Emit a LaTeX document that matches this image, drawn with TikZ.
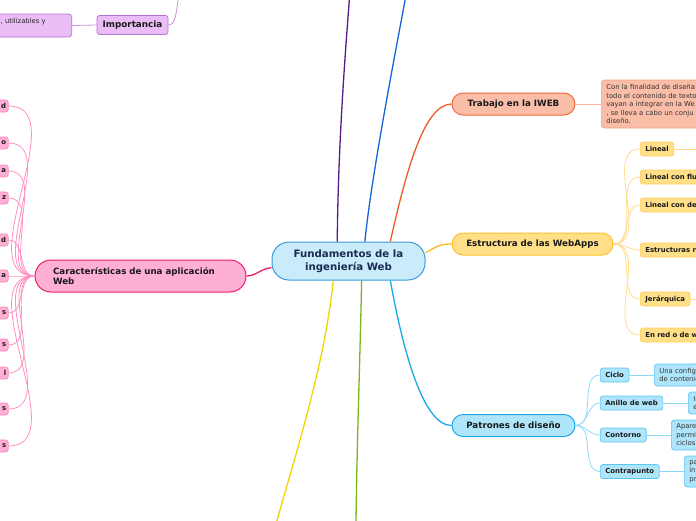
\documentclass[tikz,border=0pt]{standalone}
\usepackage{fontspec}
\setmainfont{DejaVu Sans}
\usepackage{tikz}
\usepackage{xcolor}

\definecolor{rootfill}{HTML}{C9EBFA}
\definecolor{rootline}{HTML}{3B9AD9}
\definecolor{roottext}{HTML}{1B2A50}
\definecolor{purplelink}{HTML}{5B1A85}
\definecolor{bluelink}{HTML}{1565D8}
\definecolor{orangelink}{HTML}{F05A28}
\definecolor{goldlink}{HTML}{FFB81C}
\definecolor{cyanlink}{HTML}{18A9E8}
\definecolor{greenlink}{HTML}{7AB51D}
\definecolor{yellowlink}{HTML}{F2D500}
\definecolor{pinklink}{HTML}{EE1C6C}
\definecolor{trabfill}{HTML}{FABDA8}
\definecolor{trabline}{HTML}{F26A3A}
\definecolor{trableaf}{HTML}{F4A283}
\definecolor{trabtwig}{HTML}{F9B79F}
\definecolor{estfill}{HTML}{FFDF88}
\definecolor{estline}{HTML}{FFC12B}
\definecolor{estsub}{HTML}{FFCF5C}
\definecolor{esttwig}{HTML}{FFDC8C}
\definecolor{patfill}{HTML}{AFE5FA}
\definecolor{patline}{HTML}{1DA9E6}
\definecolor{patsub}{HTML}{5CC6F2}
\definecolor{pattwig}{HTML}{8ED8F7}
\definecolor{carfill}{HTML}{FFAFD3}
\definecolor{carline}{HTML}{EE1C6C}
\definecolor{carsub}{HTML}{FF86BE}
\definecolor{cartwig}{HTML}{FF8FC2}
\definecolor{impfill}{HTML}{EBBDF7}
\definecolor{impline}{HTML}{B473D1}
\definecolor{imptwig}{HTML}{C595DC}

\begin{document}
\begin{tikzpicture}[>=stealth, x=1pt, y=-1pt, semithick,
    root/.style={draw=rootline, fill=rootfill, line width=1pt, rounded corners=17pt,
        minimum width=153pt, minimum height=38pt, inner sep=0pt, align=center,
        text=roottext, font=\bfseries\fontsize{10.2}{13}\selectfont},
    topic/.style={line width=1pt, rounded corners=11pt, minimum height=22pt,
        inner sep=0pt, text=black!90, font=\bfseries\fontsize{8.7}{10.2}\selectfont},
    sub/.style={line width=0.7pt, rounded corners=2.5pt, minimum height=14pt,
        inner xsep=5pt, inner ysep=0pt, text=black!90,
        font=\bfseries\fontsize{6.9}{8}\selectfont},
    leaf/.style={line width=0.7pt, rounded corners=3pt, inner xsep=5pt, inner ysep=1pt,
        align=left, anchor=west, text=black!80, font=\fontsize{6.8}{8.5}\selectfont},
    link/.style={line width=1.3pt},
    twig/.style={line width=0.8pt}]
        \useasboundingbox (0,0) rectangle (696,520);
        % centre
		\node[root] (0) at (348.5,261) {Fundamentos de la\\ingeniería Web};
        % Trabajo en la IWEB
		\node[topic, draw=trabline, fill=trabfill, minimum width=123pt] (1) at (513.5,104) {Trabajo en la IWEB};
		\node[leaf, draw=trableaf, fill=trabfill, text width=110pt, minimum height=48pt] (11) at (601,104) {Con la finalidad de diseña\\todo el contenido de texto\\vayan a integrar en la We\\, se lleva a cabo un conju\\diseño.};
        % Estructura de las WebApps
		\node[topic, draw=estline, fill=estfill, minimum width=161pt] (2) at (532.5,244) {Estructura de las WebApps};
		\node[sub, draw=estsub, fill=estfill, anchor=west] (21) at (640,149) {Lineal};
		\node[sub, draw=estsub, fill=estfill, anchor=west, text width=70pt, align=left] (22) at (640,177) {Lineal con flu};
		\node[sub, draw=estsub, fill=estfill, anchor=west, text width=70pt, align=left] (23) at (640,205) {Lineal con de};
		\node[sub, draw=estsub, fill=estfill, anchor=west, text width=70pt, align=left] (24) at (640,250) {Estructuras r};
		\node[sub, draw=estsub, fill=estfill, anchor=west] (25) at (640,299) {Jerárquica};
		\node[sub, draw=estsub, fill=estfill, anchor=west, text width=70pt, align=left] (26) at (640,335) {En red o de w};
		\coordinate (21a) at (700,149);
		\coordinate (25a) at (700,299);
        % Patrones de diseño
		\node[topic, draw=patline, fill=patfill, minimum width=123pt] (3) at (513.5,425.5) {Patrones de diseño};
		\node[sub, draw=patsub, fill=patfill, anchor=west] (31) at (600,375) {Ciclo};
		\node[sub, draw=patsub, fill=patfill, anchor=west] (32) at (600,403) {Anillo de web};
		\node[sub, draw=patsub, fill=patfill, anchor=west] (33) at (600,435) {Contorno};
		\node[sub, draw=patsub, fill=patfill, anchor=west] (34) at (600,471.5) {Contrapunto};
		\node[leaf, draw=patsub, fill=patfill, text width=60pt, minimum height=22pt] (311) at (654,375) {Una config\\de contenie};
		\node[leaf, draw=patsub, fill=patfill, text width=60pt, minimum height=22pt] (321) at (688,403) {In\\e};
		\node[leaf, draw=patsub, fill=patfill, text width=60pt, minimum height=30pt] (331) at (671,435) {Apare\\permi\\ciclos.};
		\node[leaf, draw=patsub, fill=patfill, text width=60pt, minimum height=31pt] (341) at (684,471.5) {pa\\int\\pr};
        % Características de una aplicación Web
		\node[topic, draw=carline, fill=carfill, rounded corners=16pt, minimum height=32pt, text width=175pt, inner xsep=18pt, align=left] (4) at (140.5,276) {Características de una aplicación\\Web};
		\node[sub, draw=carsub, fill=carfill, anchor=east, minimum height=12pt, inner xsep=2pt, text width=30pt, align=right] (41) at (8.5,106) {d};
		\node[sub, draw=carsub, fill=carfill, anchor=east, minimum height=12pt, inner xsep=2pt, text width=30pt, align=right] (42) at (8.5,143) {o};
		\node[sub, draw=carsub, fill=carfill, anchor=east, minimum height=12pt, inner xsep=2pt, text width=30pt, align=right] (43) at (8.5,171) {a};
		\node[sub, draw=carsub, fill=carfill, anchor=east, minimum height=12pt, inner xsep=2pt, text width=30pt, align=right] (44) at (8.5,198) {z};
		\node[sub, draw=carsub, fill=carfill, anchor=east, minimum height=12pt, inner xsep=2pt, text width=30pt, align=right] (45) at (8.5,240) {d};
		\node[sub, draw=carsub, fill=carfill, anchor=east, minimum height=12pt, inner xsep=2pt, text width=30pt, align=right] (46) at (8.5,276) {a};
		\node[sub, draw=carsub, fill=carfill, anchor=east, minimum height=12pt, inner xsep=2pt, text width=30pt, align=right] (47) at (8.5,313) {s};
		\node[sub, draw=carsub, fill=carfill, anchor=east, minimum height=12pt, inner xsep=2pt, text width=30pt, align=right] (48) at (8.5,345) {s};
		\node[sub, draw=carsub, fill=carfill, anchor=east, minimum height=12pt, inner xsep=2pt, text width=30pt, align=right] (49) at (8.5,373) {l};
		\node[sub, draw=carsub, fill=carfill, anchor=east, minimum height=12pt, inner xsep=2pt, text width=30pt, align=right] (410) at (8.5,409) {s};
		\node[sub, draw=carsub, fill=carfill, anchor=east, minimum height=12pt, inner xsep=2pt, text width=30pt, align=right] (411) at (8.5,446) {s};
        % Importancia
		\node[sub, draw=impline, fill=impfill, minimum height=19pt, minimum width=71pt, font=\bfseries\fontsize{8.8}{10}\selectfont] (5) at (132.5,25) {Importancia};
		\node[leaf, draw=impline, fill=impfill, anchor=east, text width=66pt, minimum height=23pt, text=black!85] (51) at (72,25.5) {, utilizables y\\\mbox{}};
		\coordinate (5a) at (178.5,-2);
        % branches leaving the picture
		\coordinate (60) at (349.5,-2);
		\coordinate (61) at (405.5,-2);
		\coordinate (62) at (356,522);
		\coordinate (63) at (276.5,522);
        % links from the centre
		\draw[link, purplelink] (0.120) .. controls (338,160) and (343,80) .. (60);
		\draw[link, bluelink] (0.50) .. controls (371,180) and (392,70) .. (61);
		\draw[link, orangelink] (0.25) .. controls (406,172) and (424,104) .. (1.west);
		\draw[link, goldlink] (0.6) .. controls (437,246) and (440,244) .. (2.west);
		\draw[link, cyanlink] (0.-25) .. controls (402,345) and (422,425.5) .. (3.west);
		\draw[link, greenlink] (0.-56) .. controls (360,360) and (357,440) .. (62);
		\draw[link, yellowlink] (0.-128) .. controls (325,360) and (300,440) .. (63);
		\draw[link, pinklink] (0.185) .. controls (262,268) and (256,276) .. (4.east);
        % twigs
		\draw[twig, trabtwig] (1.east) to (11.west);
		\draw[twig, esttwig] (2.east) to[out=0, in=180] (21.west);
		\draw[twig, esttwig] (2.east) to[out=0, in=180] (22.west);
		\draw[twig, esttwig] (2.east) to[out=0, in=180] (23.west);
		\draw[twig, esttwig] (2.east) to[out=0, in=180] (24.west);
		\draw[twig, esttwig] (2.east) to[out=0, in=180] (25.west);
		\draw[twig, esttwig] (2.east) to[out=0, in=180] (26.west);
		\draw[twig, esttwig] (21.east) to (21a);
		\draw[twig, esttwig] (25.east) to (25a);
		\draw[twig, pattwig] (3.east) to[out=0, in=180] (31.west);
		\draw[twig, pattwig] (3.east) to[out=0, in=180] (32.west);
		\draw[twig, pattwig] (3.east) to[out=0, in=180] (33.west);
		\draw[twig, pattwig] (3.east) to[out=0, in=180] (34.west);
		\draw[twig, pattwig] (31.east) to (311.west);
		\draw[twig, pattwig] (32.east) to (321.west);
		\draw[twig, pattwig] (33.east) to (331.west);
		\draw[twig, pattwig] (34.east) to (341.west);
		\draw[twig, cartwig] (4.west) to[out=180, in=0] (41.east);
		\draw[twig, cartwig] (4.west) to[out=180, in=0] (42.east);
		\draw[twig, cartwig] (4.west) to[out=180, in=0] (43.east);
		\draw[twig, cartwig] (4.west) to[out=180, in=0] (44.east);
		\draw[twig, cartwig] (4.west) to[out=180, in=0] (45.east);
		\draw[twig, cartwig] (4.west) to[out=180, in=0] (46.east);
		\draw[twig, cartwig] (4.west) to[out=180, in=0] (47.east);
		\draw[twig, cartwig] (4.west) to[out=180, in=0] (48.east);
		\draw[twig, cartwig] (4.west) to[out=180, in=0] (49.east);
		\draw[twig, cartwig] (4.west) to[out=180, in=0] (410.east);
		\draw[twig, cartwig] (4.west) to[out=180, in=0] (411.east);
		\draw[twig, imptwig] (5.west) to (51.east);
		\draw[twig, imptwig] (5.east) .. controls (176,25) and (176,12) .. (5a);
    \end{tikzpicture}
\end{document}
